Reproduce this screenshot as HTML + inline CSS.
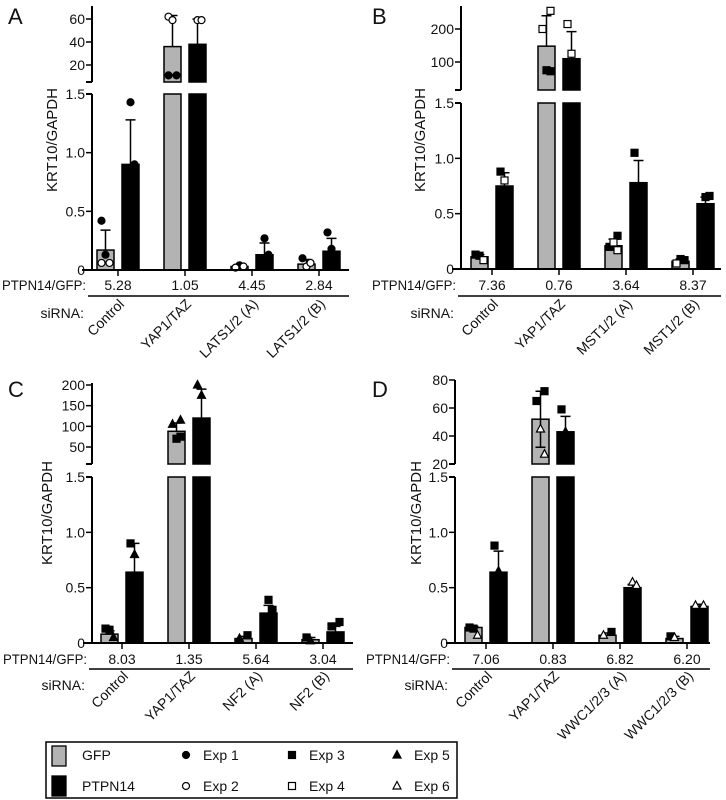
<!DOCTYPE html>
<html><head><meta charset="utf-8"><style>
html,body{margin:0;padding:0;background:#fff}
svg{display:block;font-family:"Liberation Sans",Arial,sans-serif}
</style></head><body>
<svg id="fig" width="726" height="800" viewBox="0 0 726 800"></svg>
<script>
// ---- data ----
const groupsA = ["Control","YAP1/TAZ","LATS1/2 (A)","LATS1/2 (B)"];
const groupsB = ["Control","YAP1/TAZ","MST1/2 (A)","MST1/2 (B)"];
const groupsC = ["Control","YAP1/TAZ","NF2 (A)","NF2 (B)"];
const groupsD = ["Control","YAP1/TAZ","WWC1/2/3 (A)","WWC1/2/3 (B)"];
const ratioA = ["5.28","1.05","4.45","2.84"];
const ratioB = ["7.36","0.76","3.64","8.37"];
const ratioC = ["8.03","1.35","5.64","3.04"];
const ratioD = ["7.06","0.83","6.82","6.20"];
const gfpMeanA = [0.17,36,0.03,0.05];   const gfpErrA = [0.17,27,0.01,0.04];
const ptpMeanA = [0.9,38,0.13,0.16];    const ptpErrA = [0.38,22,0.1,0.11];
const gfpMeanB = [0.11,148,0.21,0.07];  const gfpErrB = [0.02,92,0.06,0.02];
const ptpMeanB = [0.75,110,0.78,0.59];  const ptpErrB = [0.12,82,0.2,0.06];
const gfpMeanC = [0.08,88,0.04,0.03];   const gfpErrC = [0.03,20,0.02,0.02];
const ptpMeanC = [0.64,120,0.27,0.1];   const ptpErrC = [0.26,70,0.07,0.05];
const gfpMeanD = [0.14,52,0.07,0.04];   const gfpErrD = [0.01,20,0.02,0.02];
const ptpMeanD = [0.64,43,0.5,0.33];    const ptpErrD = [0.19,11,0.03,0.02];
// points: [group, series(0 gfp,1 ptpn14), value, shape]
const pointsA = [[0,0,0.42,"c1"],[0,0,0.13,"c1"],[0,0,0.06,"c2"],[0,0,0.06,"c2"],[0,1,1.43,"c1"],[0,1,0.9,"c1"],
 [1,0,62,"c2"],[1,0,59,"c2"],[1,0,11,"c1"],[1,0,11,"c1"],[1,1,59,"c2"],[1,1,59,"c2"],[1,1,16,"c1"],
 [2,0,0.04,"c1"],[2,0,0.03,"c2"],[2,0,0.02,"c2"],[2,1,0.27,"c1"],[2,1,0.13,"c1"],
 [3,0,0.1,"c1"],[3,0,0.03,"c2"],[3,0,0.06,"c2"],[3,1,0.32,"c1"],[3,1,0.18,"c1"]];
const pointsB = [[0,0,0.13,"s1"],[0,0,0.12,"s1"],[0,0,0.08,"s2"],[0,1,0.88,"s1"],[0,1,0.8,"s2"],
 [1,0,255,"s2"],[1,0,200,"s2"],[1,0,75,"s1"],[1,0,72,"s1"],[1,1,215,"s2"],[1,1,125,"s2"],
 [2,0,0.3,"s1"],[2,0,0.2,"s1"],[2,0,0.24,"s2"],[2,0,0.17,"s2"],[2,1,1.05,"s1"],
 [3,0,0.09,"s1"],[3,0,0.08,"s1"],[3,0,0.05,"s2"],[3,1,0.65,"s1"],[3,1,0.66,"s1"]];
const pointsC = [[0,0,0.13,"s1"],[0,0,0.12,"s1"],[0,0,0.05,"t1"],[0,1,0.9,"s1"],[0,1,0.8,"t1"],
 [1,0,115,"t1"],[1,0,105,"t1"],[1,0,70,"s1"],[1,0,75,"s1"],[1,1,200,"t1"],[1,1,175,"t1"],
 [2,0,0.07,"s1"],[2,0,0.04,"t1"],[2,1,0.39,"s1"],[2,1,0.3,"s1"],
 [3,0,0.05,"s1"],[3,0,0.02,"t1"],[3,1,0.19,"s1"],[3,1,0.15,"s1"]];
const pointsD = [[0,0,0.14,"s1"],[0,0,0.13,"s1"],[0,0,0.07,"t2"],[0,1,0.88,"s1"],[0,1,0.65,"t1"],
 [1,0,72,"s1"],[1,0,65,"s1"],[1,0,45,"t2"],[1,0,27,"t2"],[1,1,59,"s1"],[1,1,43,"t1"],
 [2,0,0.1,"s1"],[2,0,0.07,"t2"],[2,1,0.55,"t2"],[2,1,0.52,"t2"],
 [3,0,0.06,"s1"],[3,0,0.05,"t2"],[3,1,0.34,"t2"],[3,1,0.34,"t2"]];
const lowTicks = [0,0.5,1.0,1.5];
const lowTickLabels = ["0","0.5","1.0","1.5"];
const topTicksA = [20,40,60], topTicksB = [100,200], topTicksC = [50,100,150,200], topTicksD = [20,40,60,80];

// ---- layout ----
const NS="http://www.w3.org/2000/svg";
const svg=document.getElementById('fig');
function mk(tag,attrs,parent){const e=document.createElementNS(NS,tag);for(const k in attrs)e.setAttribute(k,attrs[k]);(parent||svg).appendChild(e);return e;}
function txt(x,y,s,size,anchor,parent,extra){const t=mk('text',Object.assign({x:x,y:y,'font-size':size,'text-anchor':anchor||'start',fill:'#111'},extra||{}),parent);t.textContent=s;return t;}

const panels=[
 {id:'a',letter:'A',lx:8,ly:24,ax:92,bl:82,br:349,zeroY:270,lowTopY:94,brkY:82,topY:6,v1:20,y1:65,v2:60,y2:19,c0:118,rowY:290,lineY:296,sirY:318,titleX:52,titleY:140,
  groups:groupsA,ratio:ratioA,gm:gfpMeanA,ge:gfpErrA,pm:ptpMeanA,pe:ptpErrA,pts:pointsA,tt:topTicksA},
 {id:'b',letter:'B',lx:372,ly:24,ax:461,bl:452,br:721,zeroY:269,lowTopY:103,brkY:90,topY:6,v1:100,y1:62,v2:200,y2:29,c0:492,rowY:290,lineY:296,sirY:318,titleX:420,titleY:140,
  groups:groupsB,ratio:ratioB,gm:gfpMeanB,ge:gfpErrB,pm:ptpMeanB,pe:ptpErrB,pts:pointsB,tt:topTicksB},
 {id:'c',letter:'C',lx:8,ly:397,ax:92,bl:83,br:353,zeroY:643,lowTopY:477,brkY:464,topY:383,v1:50,y1:447,v2:200,y2:385,c0:122,rowY:664,lineY:669,sirY:690,titleX:47,titleY:513,
  groups:groupsC,ratio:ratioC,gm:gfpMeanC,ge:gfpErrC,pm:ptpMeanC,pe:ptpErrC,pts:pointsC,tt:topTicksC},
 {id:'d',letter:'D',lx:372,ly:397,ax:455,bl:446,br:710,zeroY:643,lowTopY:477,brkY:464,topY:380,v1:20,y1:464,v2:80,y2:380,c0:486,rowY:664,lineY:669,sirY:690,titleX:416,titleY:513,
  groups:groupsD,ratio:ratioD,gm:gfpMeanD,ge:gfpErrD,pm:ptpMeanD,pe:ptpErrD,pts:pointsD,tt:topTicksD}
];
const STEP=67, BW=17, GAP=4;

function marker(g,shape,x,y){
 let e;const filled=shape[1]==='1';const f=filled?'#000':'#fff';
 if(shape[0]==='c') e=mk('circle',{cx:x,cy:y,r:3.5,fill:f,stroke:'#000','stroke-width':1.2},g);
 else if(shape[0]==='s') e=mk('rect',{x:x-3.5,y:y-3.5,width:7,height:7,fill:f,stroke:'#000','stroke-width':1.2},g);
 else e=mk('polygon',{points:`${x},${y-4.5} ${x+4},${y+3} ${x-4},${y+3}`,fill:f,stroke:'#000','stroke-width':1.2},g);
 
 
}

panels.forEach(P=>{
 const g=mk('g',{},svg);
 
 
 const yLow=v=>P.zeroY-v*(P.zeroY-P.lowTopY)/1.5;
 const k=(P.y1-P.y2)/(P.v2-P.v1);
 const yTop=v=>P.y1-(v-P.v1)*k;
 const brkV=P.v1-(P.brkY-P.y1)/k;
 const Y=v=>v<=1.5?yLow(v):yTop(Math.max(v,brkV));
 const cx=i=>P.c0+i*STEP;

 const L=txt(P.lx,P.ly,P.letter,22,'start',g);
 
 

 [[P.gm,P.ge,'#b3b3b3',-1],[P.pm,P.pe,'#000',1]].forEach(([m,e,fill,side],si)=>{
  m.forEach((v,i)=>{
   const x=side<0?cx(i)-GAP-BW:cx(i)+GAP;
   const bg=mk('g',{},g);
   
   
   if(v<=1.5){mk('rect',{x:x,y:yLow(v),width:BW,height:P.zeroY-yLow(v),fill:fill,stroke:'#000','stroke-width':1.5},bg);}
   else{
    mk('rect',{x:x,y:P.lowTopY,width:BW,height:P.zeroY-P.lowTopY,fill:fill,stroke:'#000','stroke-width':1.5},bg);
    mk('rect',{x:x,y:yTop(v),width:BW,height:P.brkY-yTop(v),fill:fill,stroke:'#000','stroke-width':1.5},bg);
   }
   const mx=x+BW/2, top=Y(v+e[i]);
   const eb=mk('path',{d:`M${mx},${Y(v)}V${top}M${mx-5},${top}H${mx+5}`+(P.id==='d'&&i===1&&si===0?`M${mx},${Y(v)}V${Y(v-e[i])}M${mx-5},${Y(v-e[i])}H${mx+5}`:''),stroke:'#000','stroke-width':1.5,fill:'none'},bg);
   
   
  });
 });
 P.pts.forEach(([gi,s,v,sh],j)=>{
  const x=s?cx(gi)+GAP+BW/2:cx(gi)-GAP-BW/2;
  const off=((j%3)-1)*4;
  marker(g,sh,x+off,Y(v));
 });
 const ya=mk('path',{d:`M${P.ax},${P.zeroY}V${P.lowTopY}M${P.ax},${P.brkY}V${P.topY}M${P.ax-6},${P.lowTopY}H${P.ax}M${P.ax-6},${P.brkY}H${P.ax}`,stroke:'#000','stroke-width':2,fill:'none'},g);
 
 
 lowTicks.forEach((t,i)=>{
  mk('line',{x1:P.ax-6,x2:P.ax,y1:yLow(t),y2:yLow(t),stroke:'#000','stroke-width':1.5},g);
  const tl=txt(P.ax-7,yLow(t)+5,lowTickLabels[i],14,'end',g);
  
  
 });
 P.tt.forEach(t=>{
  mk('line',{x1:P.ax-6,x2:P.ax,y1:yTop(t),y2:yTop(t),stroke:'#000','stroke-width':1.5},g);
  const tl=txt(P.ax-7,yTop(t)+5,String(t),14,'end',g);
  
  
 });
 const xa=mk('line',{x1:P.bl,x2:P.br,y1:P.zeroY,y2:P.zeroY,stroke:'#000','stroke-width':2},g);
 
 
 P.groups.forEach((n,i)=>{
  mk('line',{x1:cx(i),x2:cx(i),y1:P.zeroY,y2:P.zeroY+6,stroke:'#000','stroke-width':1.5},g);
  const r=txt(cx(i),P.rowY,P.ratio[i],14,'middle',g);
  
  
  const xl=txt(0,0,n,14,'end',g,{transform:`translate(${cx(i)+7},${P.sirY-13}) rotate(-45)`});
  
  
 });
 const rl=txt(P.bl-80,P.rowY,'PTPN14/GFP:',14,'start',g,{textLength:84,lengthAdjust:'spacingAndGlyphs'});
 
 
 mk('line',{x1:P.bl+6,x2:P.br,y1:P.lineY,y2:P.lineY,stroke:'#000','stroke-width':1.5},g);
 const sl=txt(P.bl+2,P.sirY,'siRNA:',14,'end',g);
 
 
 const yt=txt(0,0,'KRT10/GAPDH',15,'middle',g,{transform:`translate(${P.titleX+5},${P.titleY}) rotate(-90)`});
 
 
});

const lg=mk('g',{},svg);


mk('rect',{x:46,y:742,width:411,height:56,fill:'#fff',stroke:'#000','stroke-width':1.5},lg);
const r1=755,r2=786;
mk('rect',{x:52,y:r1-9,width:14,height:20,fill:'#b3b3b3',stroke:'#000','stroke-width':1.3},lg);
mk('rect',{x:52,y:r2-10,width:14,height:20,fill:'#000',stroke:'#000','stroke-width':1.3},lg);
txt(82,r1+5,'GFP',14,'start',lg);
txt(82,r2+5,'PTPN14',14,'start',lg);
const legItems=[[186,r1,'c1','Exp 1'],[186,r2,'c2','Exp 2'],[292,r1,'s1','Exp 3'],[292,r2,'s2','Exp 4'],[397,r1,'t1','Exp 5'],[397,r2,'t2','Exp 6']];
legItems.forEach(([x,y,s,l])=>{
 marker(lg,s,x,y);
 const t=txt(x+17,y+5,l,14,'start',lg);
 
 
});
</script>
</body></html>
